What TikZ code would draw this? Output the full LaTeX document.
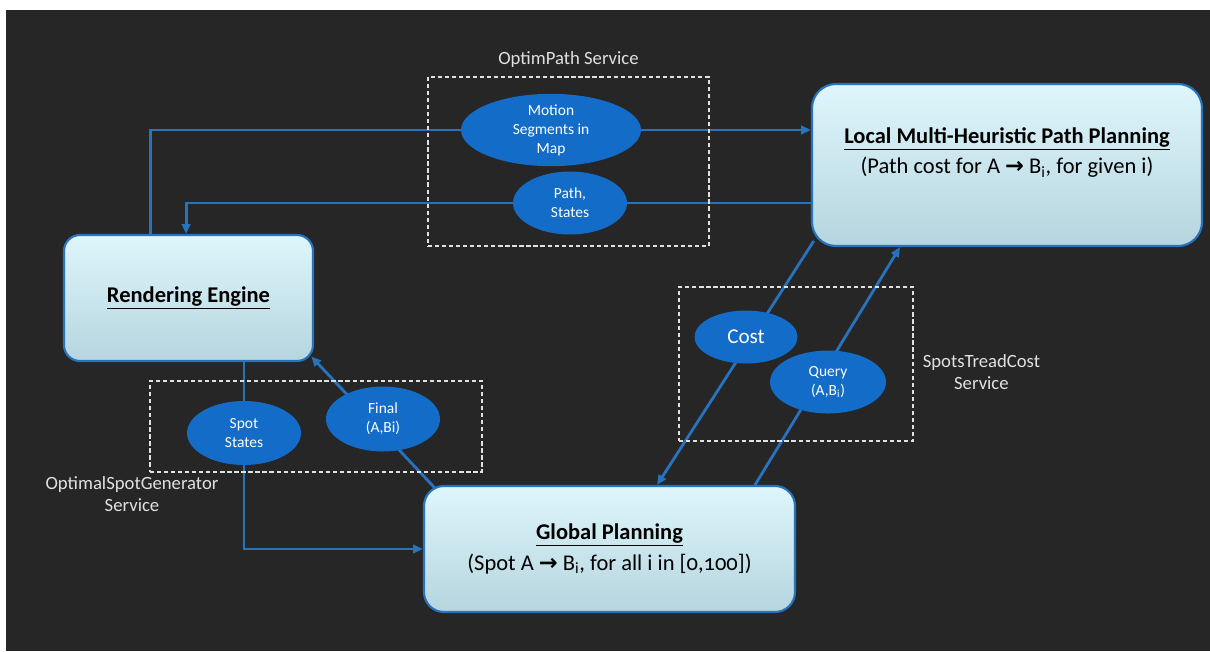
\documentclass[tikz,border=0pt]{standalone}
\usepackage{fontspec}
\setmainfont{Carlito}[Numbers=OldStyle]
\newfontfamily\arrowfont{DejaVu Sans}
\usetikzlibrary{positioning,shapes.geometric,arrows.meta}

\definecolor{darkbg}{RGB}{38,38,38}
\definecolor{linkblue}{RGB}{40,115,190}
\definecolor{ovalblue}{RGB}{18,108,200}
\definecolor{boxtop}{RGB}{222,246,252}
\definecolor{boxbot}{RGB}{182,213,222}
\definecolor{labelgray}{RGB}{225,225,225}

\pgfdeclarelayer{back}
\pgfdeclarelayer{wires}
\pgfsetlayers{back,wires,main}

\newcommand{\goesto}{{\arrowfont\bfseries →}}

\tikzset{
  bigbox/.style={draw=linkblue, line width=1.5pt, top color=boxtop, bottom color=boxbot,
    rounded corners=0.5cm, inner sep=0pt, align=center, font=\fontsize{16}{21.5}\selectfont},
  oval/.style={ellipse, fill=ovalblue, inner sep=0pt, align=center, text=white,
    font=\fontsize{11}{13.5}\selectfont},
  wire/.style={draw=linkblue, line width=2pt, >={Triangle[length=7pt,width=6pt]}},
  servicebox/.style={draw=labelgray, line width=1.1pt, dash pattern=on 3pt off 2pt},
  servicelabel/.style={text=labelgray, align=center, font=\fontsize{13.3}{16}\selectfont}
}

\begin{document}
\begin{tikzpicture}
\useasboundingbox (0,0) rectangle (30.25cm,-16.275cm);
\begin{pgfonlayer}{back}
\fill[white] (0,0) rectangle (30.25cm,-16.275cm);
\fill[darkbg] (0.15cm,-0.25cm) rectangle (30.25cm,-16.275cm);
\end{pgfonlayer}

% the three blocks
\node (local) at (25.175cm,-4.125cm) [bigbox, rounded corners=0.6cm, minimum width=9.75cm, minimum height=4.05cm] {};
\node (localtxt) at ([yshift=-1.74cm]local.north) [align=center, font=\fontsize{16}{21.5}\selectfont]
  {\underline{\textbf{Local Multi-Heuristic Path Planning}}\\(Path cost for A \goesto{} B\textsubscript{i}, for given i)};
\node (render) at (4.7125cm,-7.45cm) [bigbox, rounded corners=0.4cm, minimum width=6.225cm, minimum height=3.15cm]
  {\underline{\textbf{Rendering Engine}}};
\node (global) at (15.2375cm,-13.725cm) [bigbox, minimum width=9.275cm, minimum height=3.15cm]
  {\underline{\textbf{Global Planning}}\\(Spot A \goesto{} B\textsubscript{i}, for all i in [0,100])};

% services
\node (optimbox) at (14.2125cm,-4.0375cm) [servicebox, minimum width=7.025cm, minimum height=4.225cm] {};
\node (optimlabel) [servicelabel, above=0.1cm of optimbox] {OptimPath Service};
\node (spotbox) at (19.9cm,-9.1cm) [servicebox, minimum width=5.85cm, minimum height=3.85cm] {};
\node (spotlabel) [servicelabel, right=0.1cm of spotbox, yshift=-0.2cm] {SpotsTreadCost\\Service};
\node (genbox) at (7.9cm,-10.6625cm) [servicebox, minimum width=8.3cm, minimum height=2.275cm] {};
\node (genlabel) at (3.3cm,-12.35cm) [servicelabel] {OptimalSpotGenerator\\Service};

% messages
\node (motion) at (13.775cm,-3.25cm) [oval, minimum width=4.5cm, minimum height=1.4cm] {Motion\\Segments in\\Map};
\node (pathst) at (14.25cm,-5.075cm) [oval, minimum width=2.85cm, minimum height=1.575cm] {Path,\\States};
\node (spotst) at (6.1cm,-10.825cm) [oval, minimum width=2.85cm, minimum height=1.6cm] {Spot\\States};
\node (final) at (9.575cm,-10.475cm) [oval, minimum width=2.85cm, minimum height=1.625cm] {Final\\(A,Bi)};
\node (cost) at (18.65cm,-8.425cm) [oval, minimum width=2.575cm, minimum height=1.325cm, font=\fontsize{15}{16}\selectfont] {Cost};
\node (query) at (20.7cm,-9.55cm) [oval, minimum width=2.9cm, minimum height=1.575cm] {Query\\(A,B\textsubscript{i})};

\begin{pgfonlayer}{wires}
\draw[wire,->] ([xshift=-0.96cm]render.north) |- (motion.center) -- (local.west |- motion.center);
\draw[wire,->] (local.west |- pathst.center) -- (pathst.center) -| ([xshift=-0.06cm]render.north);
\draw[wire,->] (render.south -| spotst.center) -- (spotst.center) |- (global.west);
\draw[wire,->] ([shift={(0.32cm,-0.1cm)}]global.north west) -- ([shift={(-0.07cm,0.14cm)}]render.south east);
\draw[wire,->] ([shift={(0.07cm,0.15cm)}]local.south west) -- ([xshift=1.19cm]global.north);
\draw[wire,->] ([xshift=3.6375cm]global.north) -- ([xshift=-2.675cm]local.south);
\end{pgfonlayer}
\end{tikzpicture}
\end{document}
